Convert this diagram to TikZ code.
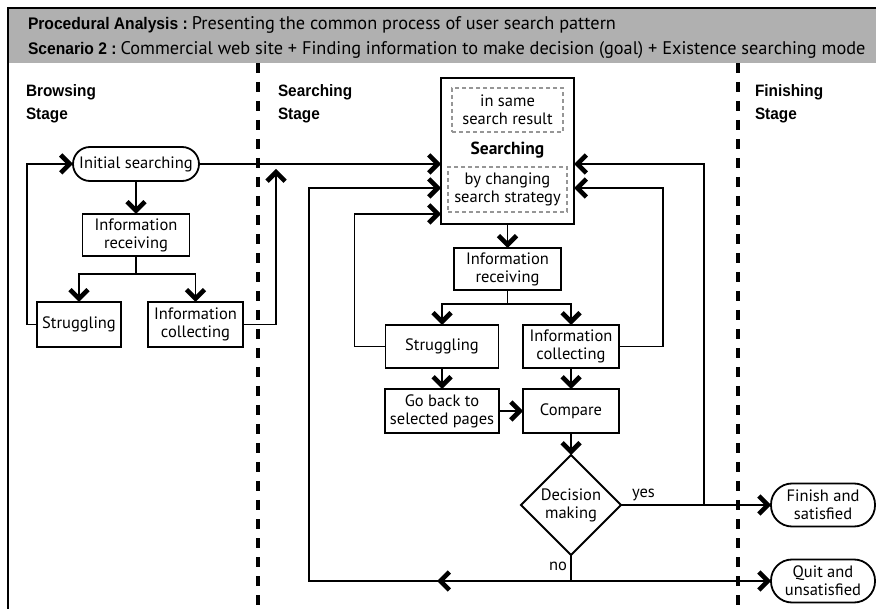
\documentclass[tikz,border=0pt]{standalone}
\usepackage{fontspec}
\setmainfont{PT Sans}
\newfontfamily\condfont[FakeStretch=0.93]{Liberation Sans}
\usetikzlibrary{arrows.meta,shapes.geometric,calc}
\definecolor{headgray}{RGB}{176,176,176}
\definecolor{dashgray}{RGB}{150,150,150}
\newcommand{\headbold}[1]{{\condfont\bfseries\fontsize{16.8}{20}\selectfont #1}\hspace{4pt}}
\begin{document}
\begin{tikzpicture}[x=1pt,y=-1pt,
  every node/.style={inner sep=0pt,outer sep=0pt},
  txt/.style={font=\fontsize{16.5}{18}\selectfont},
  box/.style={draw,line width=1.8pt,align=center,txt},
  pill/.style={box,rounded corners=17pt},
  inner/.style={draw=dashgray,line width=1.3pt,dash pattern=on 4pt off 3pt,align=center,txt},
  stagehd/.style={font=\condfont\bfseries\fontsize{16.5}{20}\selectfont,anchor=base west},
  headtxt/.style={font=\fontsize{18.3}{20}\selectfont,anchor=base west},
  link/.style={line width=1.8pt},
  arr/.style={link,-{Straight Barb[length=9pt,width=18pt,line width=4.6pt]}},
  sep/.style={line width=3.5pt,dash pattern=on 10pt off 9pt},
]
\useasboundingbox (0,0) rectangle (876,609);

% header band and frame
\fill[headgray] (8,8) rectangle (876,63);
\draw[line width=2pt] (8,609) -- (8,8) -- (876,8);
\node[headtxt] (h1) at (28,29.5) {\headbold{Procedural Analysis :}Presenting the common process of user search pattern};
\node[headtxt] (h2) at (28,55) {\headbold{Scenario 2 :}Commercial web site + Finding information to make decision (goal) + Existence searching mode};

% stage separators
\draw[sep] (258,63) -- (258,609);
\draw[sep] (738,63) -- (738,609);

% stage titles
\node[stagehd] (bs1) at (26,97) {Browsing};
\node[stagehd] (bs2) at (26,120) {Stage};
\node[stagehd] (ss1) at (278,97) {Searching};
\node[stagehd] (ss2) at (278,120) {Stage};
\node[stagehd] (fs1) at (755,97) {Finishing};
\node[stagehd] (fs2) at (755,120) {Stage};

% browsing stage
\node[pill,minimum width=126pt,minimum height=34pt] (init) at (136,164) {Initial searching};
\node[box,minimum width=107pt,minimum height=42pt] (recv1) at (136,235) {Information\\receiving};
\node[box,minimum width=84pt,minimum height=45pt] (strug1) at (79,324.5) {Struggling};
\node[box,minimum width=95pt,minimum height=45pt] (coll1) at (195.5,324.5) {Information\\collecting};

% searching stage
\node[box,minimum width=133pt,minimum height=146pt] (search) at (507.5,151) {};
\node[inner,minimum width=111pt,minimum height=44pt] (same) at (507.5,110) {in same\\search result};
\node[font=\bfseries\fontsize{17.5}{20}\selectfont,anchor=base] (stitle) at (507.5,155) {Searching};
\node[inner,minimum width=119pt,minimum height=45pt] (chg) at (507.5,189.5) {by changing\\search strategy};
\node[box,minimum width=107pt,minimum height=42pt] (recv2) at (507.5,269) {Information\\receiving};
\node[box,minimum width=113pt,minimum height=43pt] (strug2) at (442,346.5) {Struggling};
\node[box,minimum width=96pt,minimum height=43pt] (coll2) at (571,346.5) {Information\\collecting};
\node[box,minimum width=114pt,minimum height=44pt] (back) at (442,411) {Go back to\\selected pages};
\node[box,minimum width=96pt,minimum height=44pt] (comp) at (571,411) {Compare};
\node[box,shape=diamond,minimum width=100pt,minimum height=100pt] (dec) at (571,505) {Decision\\making};

% finishing stage
\node[pill,rounded corners=21pt,minimum width=104pt,minimum height=43pt] (fin) at (823,505) {Finish and\\satisfied};
\node[pill,rounded corners=21pt,minimum width=104pt,minimum height=43pt] (quit) at (823,581) {Quit and\\unsatisfied};

% browsing stage connectors
\draw[arr] (init.south) -- (recv1.north);
\draw[link] (recv1.south) -- ++(0,18) coordinate (sp1);
\draw[arr] (sp1) -| (strug1.north);
\draw[arr] (sp1) -| (coll1.north);
\draw[arr] (strug1.west) -- ++(-10,0) |- (init.west);
\coordinate (up1) at (276,169);
\draw[arr] (coll1.east) -| (up1);
\draw[arr] (init.east) -- (init.east -| search.west);

% searching stage connectors
\draw[arr] (search.south) -- (recv2.north);
\draw[link] (recv2.south) -- ++(0,14) coordinate (sp2);
\draw[arr] (sp2) -| (strug2.north);
\draw[arr] (sp2) -| (coll2.north);
\draw[arr] (strug2.west) -- ++(-31,0) |- ($(search.south west)+(0,-10)$);
\draw[arr] (coll2.east) -- ++(44,0) |- ($(search.east)+(0,37)$);
\draw[arr] (strug2.south) -- (back.north);
\draw[arr] (coll2.south) -- (comp.north);
\draw[arr] (back.east) -- (comp.west);
\draw[arr] (comp.south) -- (dec.north);

% decision outcomes
\draw[arr] (dec.east) -- (fin.west);
\coordinate (yb) at (704,505);
\draw[arr] (yb) |- ($(search.east)+(0,13)$);
\coordinate (nb) at (dec.south |- quit.west);
\draw[link] (dec.south) -- (nb);
\draw[arr] (nb) -- (quit.west);
\coordinate (nomid) at (437,581);
\draw[arr] (nb) -- (nomid);
\draw[arr] (nb) -- (309,581) |- ($(search.west)+(0,37)$);
\node[txt,anchor=base west] (yes) at (632,498) {yes};
\node[txt,anchor=base west] (no) at (549,570) {no};
\end{tikzpicture}
\end{document}
